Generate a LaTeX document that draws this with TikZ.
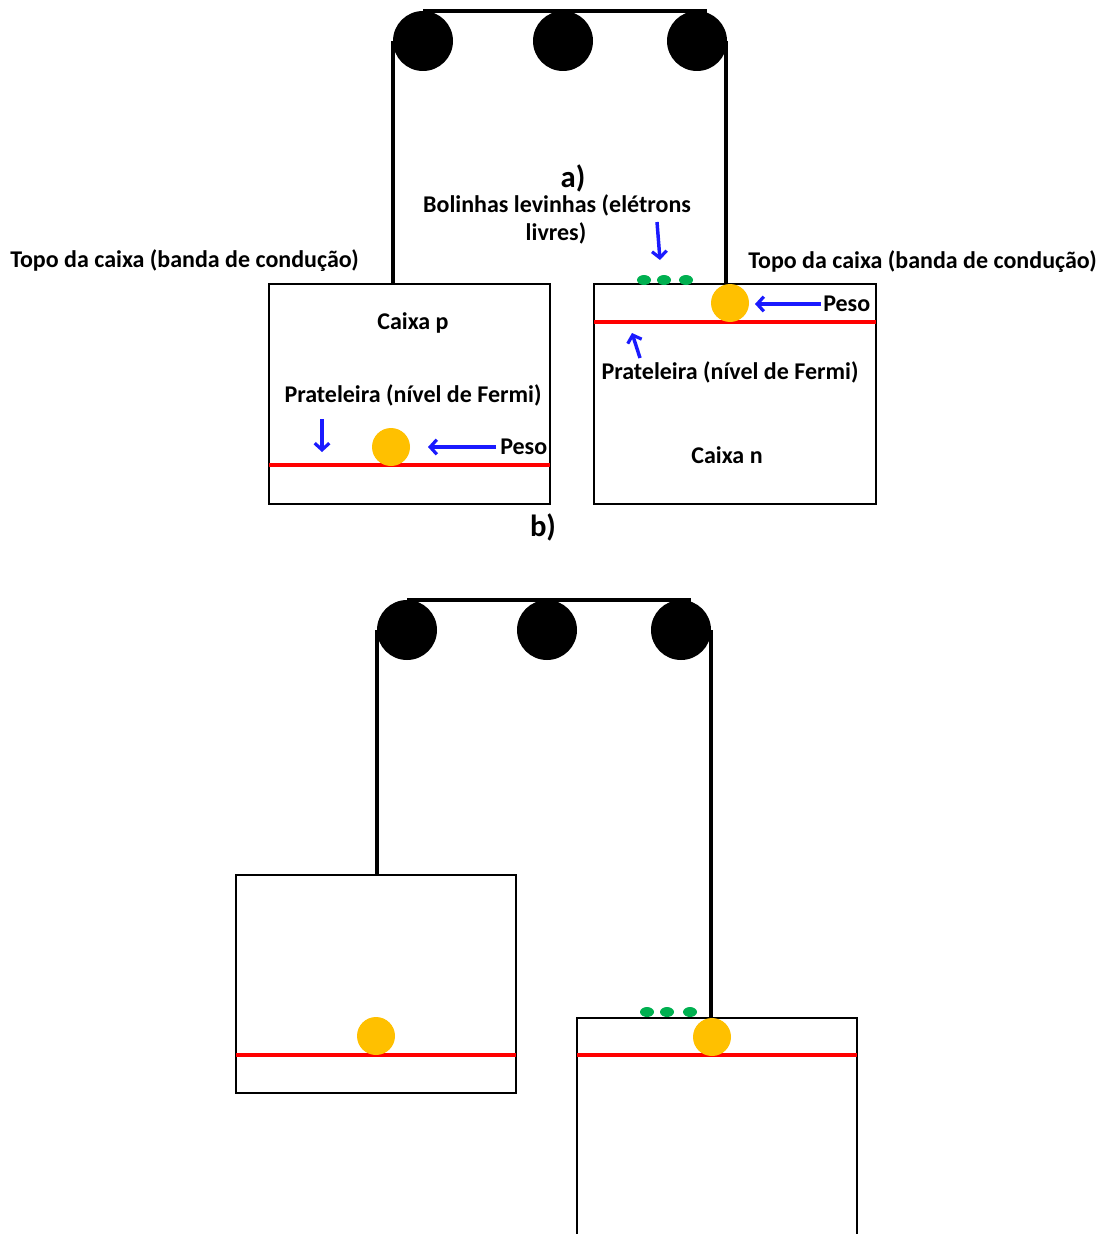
\documentclass[tikz,border=0pt]{standalone}
\usepackage{fontspec}
\setmainfont{Carlito}
\usetikzlibrary{arrows.meta,shapes.geometric}
\definecolor{ballc}{HTML}{FFC000}
\definecolor{greenc}{HTML}{00B050}
\definecolor{bluec}{HTML}{1A1AFF}
\tikzset{
  rope/.style={line width=2.4pt,black},
  boxst/.style={draw,line width=1.7pt,black},
  shelf/.style={line width=2.8pt,red},
  pulley/.style={circle,fill=black,minimum size=45pt,inner sep=0pt},
  ball/.style={circle,fill=ballc,minimum size=28.5pt,inner sep=0pt},
  elec/.style={ellipse,fill=greenc,minimum width=10.5pt,minimum height=7.5pt,inner sep=0pt},
  lbl/.style={font=\fontsize{18}{21}\selectfont\bfseries,inner sep=0pt},
  barrow/.style={draw=bluec,line width=2.6pt,-{Straight Barb[length=5pt,width=11pt,line width=2.4pt]}}
}
\begin{document}
\begin{tikzpicture}[x=0.75pt,y=-0.75pt]
\useasboundingbox (0,0) rectangle (1108,1234);
% ===== a) =====
\node[pulley] (pa1) at (423,41) {};
\node[pulley] (pa2) at (563,41) {};
\node[pulley] (pa3) at (697,41) {};
\coordinate (ta1) at (423,11);
\coordinate (ta2) at (707,11);
\draw[rope] (ta1) -- (ta2);
\draw[boxst] (269,284) rectangle (550,504);
\draw[boxst] (594,284) rectangle (876,504);
\coordinate (ra1) at (393,41);
\coordinate (ra1b) at (393,284);
\coordinate (ra2) at (726,41);
\coordinate (ra2b) at (726,284);
\draw[rope] (ra1) -- (ra1b);
\draw[rope] (ra2) -- (ra2b);
\coordinate (sa1) at (269,465); \coordinate (sa1b) at (550,465);
\coordinate (sa2) at (594,322); \coordinate (sa2b) at (876,322);
\draw[shelf] (sa1) -- (sa1b);
\draw[shelf] (sa2) -- (sa2b);
\node[ball] (ba1) at (391,447) {};
\node[ball] (ba2) at (730,303) {};
\node[elec] (ea1) at (644,280) {};
\node[elec] (ea2) at (664,280) {};
\node[elec] (ea3) at (686,280) {};
\node[lbl] (la) at (573,178) {\fontsize{23}{26}\selectfont a)};
\node[lbl] (bol1) at (557,205) {Bolinhas levinhas (elétrons};
\node[lbl] (bol2) at (556,233) {livres)};
\node[lbl,anchor=west] (topL) at (10,261) {Topo da caixa (banda de condução)};
\node[lbl,anchor=west] (topR) at (748,262) {Topo da caixa (banda de condução)};
\node[lbl] (cp) at (413,323) {Caixa p};
\node[lbl] (prp) at (413,395) {Prateleira (nível de Fermi)};
\node[lbl,anchor=west] (pesop) at (500,447) {Peso};
\node[lbl,anchor=west] (peson) at (823,304) {Peso};
\node[lbl] (prn) at (730,372) {Prateleira (nível de Fermi)};
\node[lbl] (cn) at (727,455) {Caixa n};
\coordinate (aw1) at (657,222); \coordinate (aw1b) at (660,260);
\draw[barrow] (aw1) -- (aw1b);
\coordinate (aw2) at (322,419); \coordinate (aw2b) at (322,452);
\draw[barrow] (aw2) -- (aw2b);
\coordinate (aw3) at (496,447); \coordinate (aw3b) at (428,447);
\draw[barrow] (aw3) -- (aw3b);
\coordinate (aw4) at (821,304); \coordinate (aw4b) at (755,304);
\draw[barrow] (aw4) -- (aw4b);
\coordinate (aw5) at (640,358); \coordinate (aw5b) at (632,333);
\draw[barrow] (aw5) -- (aw5b);
\node[lbl] (lb) at (543,527) {\fontsize{23}{26}\selectfont b)};
% ===== b) =====
\node[pulley] (pb1) at (407,630) {};
\node[pulley] (pb2) at (547,630) {};
\node[pulley] (pb3) at (681,630) {};
\coordinate (tb1) at (407,600);
\coordinate (tb2) at (691,600);
\draw[rope] (tb1) -- (tb2);
\draw[boxst] (236,875) rectangle (516,1093);
\draw[boxst] (577,1240) -- (577,1018) -- (857,1018) -- (857,1240);
\coordinate (rb1) at (377,630); \coordinate (rb1b) at (377,875);
\coordinate (rb2) at (711,630); \coordinate (rb2b) at (711,1018);
\draw[rope] (rb1) -- (rb1b);
\draw[rope] (rb2) -- (rb2b);
\coordinate (sb1) at (236,1055); \coordinate (sb1b) at (516,1055);
\coordinate (sb2) at (577,1055); \coordinate (sb2b) at (857,1055);
\draw[shelf] (sb1) -- (sb1b);
\draw[shelf] (sb2) -- (sb2b);
\node[ball] (bb1) at (376,1036) {};
\node[ball] (bb2) at (712,1037) {};
\node[elec] (eb1) at (647,1012) {};
\node[elec] (eb2) at (667,1012) {};
\node[elec] (eb3) at (690,1012) {};
\end{tikzpicture}
\end{document}
